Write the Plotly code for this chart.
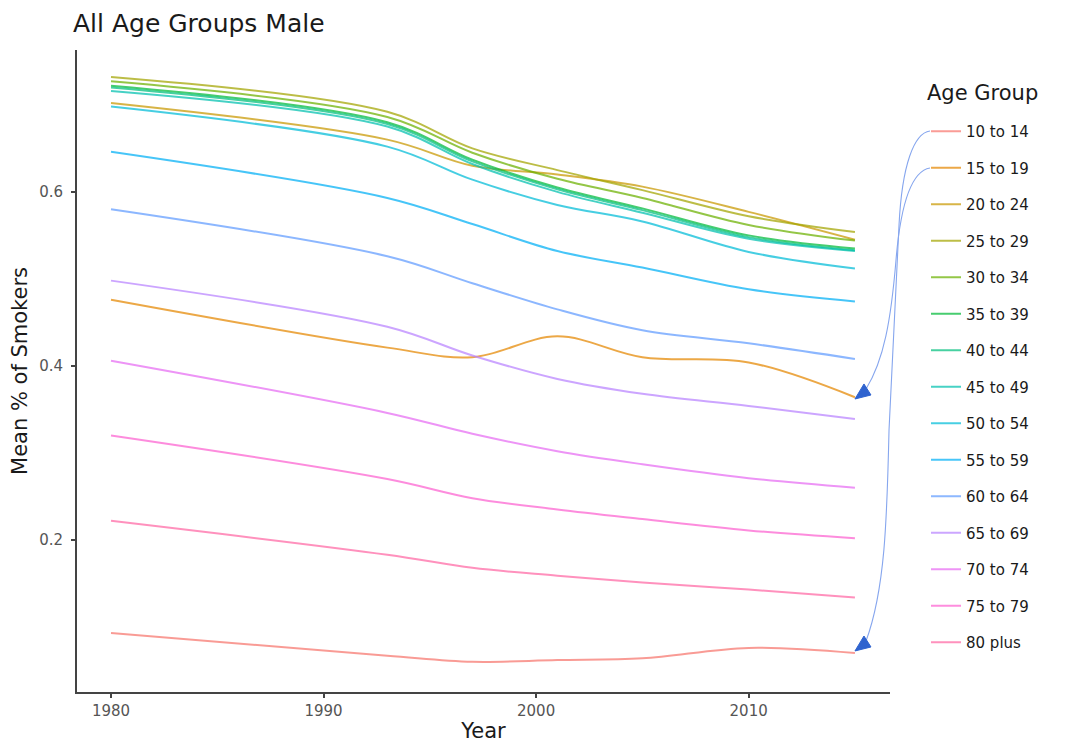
import plotly.graph_objects as go

years = [1980, 1993, 1997, 2001, 2005, 2010, 2015]

age_groups = ["10 to 14", "15 to 19", "20 to 24", "25 to 29", "30 to 34",
              "35 to 39", "40 to 44", "45 to 49", "50 to 54", "55 to 59",
              "60 to 64", "65 to 69", "70 to 74", "75 to 79", "80 plus"]

v_10_14 = [0.093, 0.067, 0.060, 0.062, 0.064, 0.076, 0.070]
v_15_19 = [0.476, 0.421, 0.410, 0.434, 0.410, 0.404, 0.364]
v_20_24 = [0.702, 0.660, 0.630, 0.620, 0.606, 0.577, 0.545]
v_25_29 = [0.732, 0.692, 0.650, 0.625, 0.602, 0.572, 0.554]
v_30_34 = [0.727, 0.686, 0.645, 0.615, 0.593, 0.562, 0.544]
v_35_39 = [0.722, 0.680, 0.637, 0.605, 0.581, 0.550, 0.535]
v_40_44 = [0.720, 0.678, 0.635, 0.603, 0.579, 0.548, 0.533]
v_45_49 = [0.716, 0.675, 0.632, 0.600, 0.576, 0.546, 0.532]
v_50_54 = [0.698, 0.652, 0.614, 0.585, 0.566, 0.531, 0.512]
v_55_59 = [0.646, 0.593, 0.563, 0.532, 0.513, 0.488, 0.474]
v_60_64 = [0.580, 0.526, 0.495, 0.465, 0.441, 0.426, 0.408]
v_65_69 = [0.498, 0.445, 0.412, 0.385, 0.368, 0.354, 0.339]
v_70_74 = [0.406, 0.346, 0.322, 0.302, 0.287, 0.271, 0.260]
v_75_79 = [0.320, 0.270, 0.248, 0.235, 0.224, 0.211, 0.202]
v_80_plus = [0.222, 0.183, 0.168, 0.159, 0.151, 0.143, 0.134]

series = [v_10_14, v_15_19, v_20_24, v_25_29, v_30_34, v_35_39, v_40_44,
          v_45_49, v_50_54, v_55_59, v_60_64, v_65_69, v_70_74, v_75_79,
          v_80_plus]

colors = ["#F8766D", "#E58700", "#C99800", "#A3A500", "#6BB100", "#00BA38",
          "#00BF7D", "#00C0AF", "#00BCD8", "#00B0F6", "#619CFF", "#B983FF",
          "#E76BF3", "#FD61D1", "#FF67A4"]

x_ticks = [1980, 1990, 2000, 2010]
y_ticks = [0.2, 0.4, 0.6]
y_tick_labels = ["0.2", "0.4", "0.6"]

fig = go.Figure()
for name, vals, col in zip(age_groups, series, colors):
    fig.add_trace(go.Scatter(
        x=years, y=vals, mode="lines", name=name, legendgroup=name,
        line=dict(color=col, width=2, shape="spline", smoothing=1.0),
        opacity=0.72,
    ))

# page offset (body margin) and plot area in screen pixels
OFF = 8
W_FIG, H_FIG = 1056, 735
L, R, T, B = 77, 890, 50, 692


def px(xp, yp):
    return (xp - L) / (R - L), (B - yp) / (B - T)


def path(cmds, close=False):
    out = []
    for cmd, pts in cmds:
        for i in range(0, len(pts), 3 if cmd == "C" else 1):
            grp = pts[i:i + 3] if cmd == "C" else [pts[i]]
            out.append(cmd + " " + " ".join("%.4f,%.4f" % px(a, b) for a, b in grp))
    s = " ".join(out)
    return s + " Z" if close else s


arrow_line = "#86A6EE"
arrow_head = "#2F63CF"

p1 = path([("M", [(930, 131)]),
           ("C", [(914, 133), (902, 165), (899, 225)]),
           ("L", [(889, 430)]),
           ("C", [(887, 520), (885, 590), (866, 641)])])
p2 = path([("M", [(930, 168)]),
           ("C", [(912, 171), (901, 200), (896, 260)]),
           ("C", [(891, 320), (884, 360), (866, 389)])])

shapes = [
    dict(type="path", xref="paper", yref="paper", path=p1,
         line=dict(color=arrow_line, width=1.1)),
    dict(type="path", xref="paper", yref="paper", path=p2,
         line=dict(color=arrow_line, width=1.1)),
    dict(type="path", xref="paper", yref="paper",
         path=path([("M", [(855, 651)]), ("L", [(864, 636), (871, 647)])], close=True),
         fillcolor=arrow_head, line=dict(color=arrow_head, width=1)),
    dict(type="path", xref="paper", yref="paper",
         path=path([("M", [(855, 399)]), ("L", [(864, 384), (871, 395)])], close=True),
         fillcolor=arrow_head, line=dict(color=arrow_head, width=1)),
]

font_family = "DejaVu Sans, Liberation Sans, Arial, sans-serif"

legend_title_x, legend_title_y = px(925, 93)

fig.update_layout(
    width=W_FIG, height=H_FIG,
    margin=dict(l=L - OFF, r=W_FIG - (R - OFF), t=T - OFF, b=H_FIG - (B - OFF),
                autoexpand=False),
    paper_bgcolor="white", plot_bgcolor="white",
    font=dict(family=font_family, color="#1a1a1a"),
    title=dict(text="All Age Groups Male", xref="container", yref="container",
               x=(73 - OFF) / W_FIG, xanchor="left",
               y=1 - (23 - OFF) / H_FIG, yanchor="middle",
               font=dict(size=25, color="#1a1a1a")),
    xaxis=dict(range=[1978.4, 2016.65], tickvals=x_ticks,
               showgrid=False, zeroline=False, showline=True,
               linecolor="#444444", linewidth=2, ticks="outside", ticklen=4,
               tickcolor="#444444", tickwidth=1.5,
               tickfont=dict(size=15, color="#555555"),
               title=dict(text="Year", font=dict(size=21, color="#1a1a1a"),
                          standoff=9)),
    yaxis=dict(range=[0.0253, 0.763], tickvals=y_ticks, ticktext=y_tick_labels,
               showgrid=False, zeroline=False, showline=True,
               linecolor="#444444", linewidth=2, ticks="outside", ticklen=4,
               tickcolor="#444444", tickwidth=1.5, ticklabelstandoff=5,
               tickfont=dict(size=15, color="#555555"),
               title=dict(text="Mean % of Smokers",
                          font=dict(size=21, color="#1a1a1a"), standoff=6)),
    legend=dict(x=(926 - L) / (R - L), xanchor="left",
                y=(B - 115) / (B - T), yanchor="top",
                font=dict(size=15, color="#1a1a1a"),
                tracegroupgap=14, traceorder="grouped",
                bgcolor="rgba(0,0,0,0)"),
    annotations=[dict(text="Age Group", xref="paper", yref="paper",
                      x=legend_title_x, y=legend_title_y,
                      xanchor="left", yanchor="middle", showarrow=False,
                      font=dict(size=21, color="#1a1a1a"))],
    shapes=shapes,
    showlegend=True,
)

fig.write_html("out.html")
